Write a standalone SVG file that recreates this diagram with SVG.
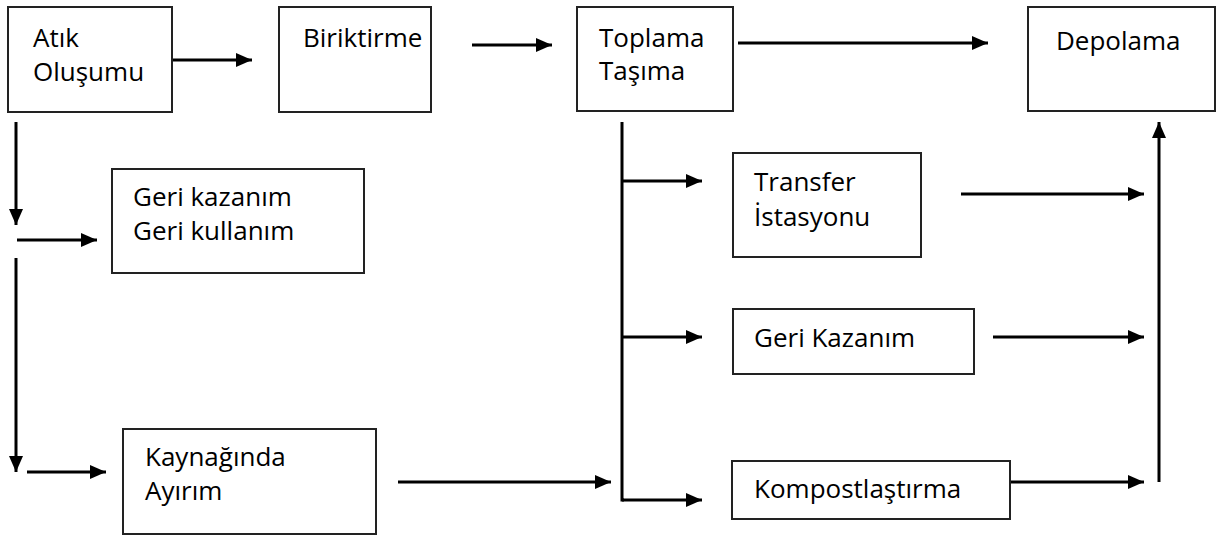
<svg xmlns="http://www.w3.org/2000/svg" width="1220" height="536" viewBox="0 0 1220 536">
<style>
.box{fill:#fff;stroke:#222;stroke-width:2}
.t{font-family:"Open Sans","Noto Sans",sans-serif;font-size:26px;fill:#000}
.c{fill:none;stroke:#000;stroke-width:3}
.a{marker-end:url(#ah)}
</style>
<defs>
<marker id="ah" markerUnits="userSpaceOnUse" markerWidth="17" markerHeight="15" refX="16" refY="7" orient="auto">
<path d="M0,0 L16,7 L0,14 Z" fill="#000"/>
</marker>
</defs>
<rect width="1220" height="536" fill="#fff"/>
<g id="connectors">
<line class="c a" x1="173" y1="60" x2="252" y2="60"/>
<line class="c a" x1="472" y1="45" x2="552" y2="45"/>
<line class="c a" x1="738" y1="43" x2="988" y2="43"/>
<line class="c a" x1="16" y1="122" x2="16" y2="225"/>
<line class="c a" x1="17" y1="240" x2="97" y2="240"/>
<line class="c a" x1="16" y1="258" x2="16" y2="472"/>
<line class="c a" x1="27" y1="472" x2="106" y2="472"/>
<line class="c a" x1="398" y1="482" x2="611" y2="482"/>
<polyline class="c" points="622,122 622,500 624,500"/>
<line class="c a" x1="622" y1="181" x2="702" y2="181"/>
<line class="c a" x1="622" y1="337" x2="702" y2="337"/>
<line class="c a" x1="622" y1="500" x2="702" y2="500"/>
<line class="c a" x1="961" y1="194" x2="1144" y2="194"/>
<line class="c a" x1="993" y1="337" x2="1144" y2="337"/>
<line class="c a" x1="1010" y1="482" x2="1144" y2="482"/>
<line class="c a" x1="1159" y1="482" x2="1159" y2="122"/>
</g>
<g id="atik">
<rect class="box" x="8" y="7" width="164" height="105"/>
<text class="t" x="33" y="47">Atık</text>
<text class="t" x="33" y="81">Oluşumu</text>
</g>
<g id="biriktirme">
<rect class="box" x="279" y="7" width="152" height="105"/>
<text class="t" x="303" y="47">Biriktirme</text>
</g>
<g id="toplama">
<rect class="box" x="577" y="7" width="156" height="104"/>
<text class="t" x="599" y="47">Toplama</text>
<text class="t" x="599" y="80">Taşıma</text>
</g>
<g id="depolama">
<rect class="box" x="1028" y="7" width="187" height="104"/>
<text class="t" x="1056" y="50">Depolama</text>
</g>
<g id="geri-kazanim-kullanim">
<rect class="box" x="112" y="169" width="252" height="104"/>
<text class="t" x="133" y="206">Geri kazanım</text>
<text class="t" x="133" y="240">Geri kullanım</text>
</g>
<g id="kaynaginda">
<rect class="box" x="123" y="429" width="253" height="105"/>
<text class="t" x="145" y="466">Kaynağında</text>
<text class="t" x="145" y="500">Ayırım</text>
</g>
<g id="transfer">
<rect class="box" x="733" y="153" width="188" height="104"/>
<text class="t" x="754" y="191">Transfer</text>
<text class="t" x="754" y="226">İstasyonu</text>
</g>
<g id="geri-kazanim">
<rect class="box" x="733" y="309" width="241" height="65"/>
<text class="t" x="754" y="347">Geri Kazanım</text>
</g>
<g id="kompost">
<rect class="box" x="732" y="461" width="278" height="58"/>
<text class="t" x="754" y="498">Kompostlaştırma</text>
</g>
</svg>
